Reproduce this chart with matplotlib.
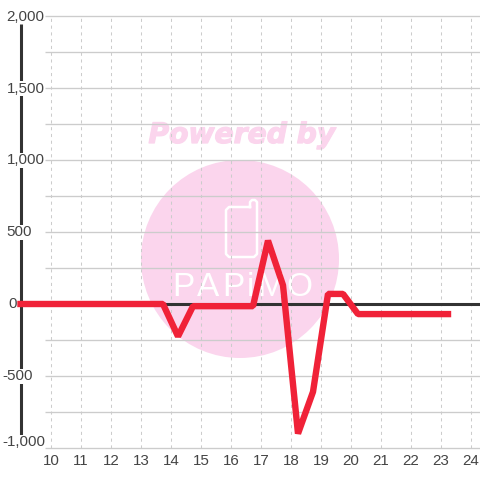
import matplotlib
matplotlib.use("Agg")
import matplotlib.pyplot as plt
import matplotlib.patheffects as pe
from matplotlib.patches import Ellipse

plt.rcParams["font.family"] = ["Liberation Sans", "DejaVu Sans"]

# half hourly values
hours = [9.0, 9.25, 9.75, 10.25, 10.75, 11.25, 11.75, 12.25, 12.75, 13.25, 13.75,
         14.25, 14.75, 15.25, 15.75, 16.25, 16.75, 17.25, 17.75, 18.25, 18.75,
         19.25, 19.75, 20.25, 20.75, 21.25, 21.75, 22.25, 22.75, 23.25]
values = [0, 0, 0, 0, 0, 0, 0, 0, 0, 0, 0,
          -225, -15, -15, -15, -15, -15, 440, 130, -900, -610,
          70, 70, -70, -70, -70, -70, -70, -70, -70]

x_ticks = list(range(10, 25))
y_major = [-1000, -500, 0, 500, 1000, 1500, 2000]
y_minor = [-750, -250, 250, 750, 1250, 1750]
y_labels = ["-1,000", "-500", "0", "500", "1,000", "1,500", "2,000"]

W = 480
PX_X10 = 50.5
PX_PER_HOUR = 30.0
PX_Y0 = 304.0
PX_PER_UNIT = 72.0 / 500


def hour_at(px):
    return 10 + (px - PX_X10) / PX_PER_HOUR


def value_at(py):
    return (PX_Y0 - py) / PX_PER_UNIT


fig = plt.figure(figsize=(4.8, 4.8), dpi=100, facecolor="white")
# axes covers the whole picture so everything can be placed by data scale
ax = fig.add_axes([0, 0, 1, 1])
ax.set_xlim(hour_at(0), hour_at(W))
ax.set_ylim(value_at(W), value_at(0))
ax.axis("off")

# watermark sits behind the chart
pink = "#fbd5ed"
ax.add_patch(Ellipse((hour_at(240), value_at(259)), 198 / PX_PER_HOUR, 198 / PX_PER_UNIT,
                     fc=pink, ec="none", zorder=1))
ax.text(hour_at(242), value_at(135), "Powered by", color=pink, fontsize=20.3,
        fontweight="bold", fontstyle="italic", family="DejaVu Sans",
        ha="center", va="center", zorder=1,
        path_effects=[pe.withStroke(linewidth=0.9, foreground=pink)])

# phone icon
phone_x = [250, 229, 226, 226, 229, 254, 257, 257, 255, 252, 250, 250]
phone_y = [207, 207, 210, 254, 257, 257, 254, 202, 200, 200, 202, 207]
ax.plot([hour_at(p) for p in phone_x], [value_at(p) for p in phone_y], color="white",
        lw=1.8, zorder=1.5, solid_joinstyle="round")

# logo letters
for ch, px in zip("PAPiMO", [183, 208, 233, 250, 271, 299]):
    ax.text(hour_at(px), value_at(288), ch, color="white", fontsize=24, ha="center",
            va="center", zorder=1.5)

# grid
for v in y_major + y_minor:
    ax.plot([hour_at(45), hour_at(W)], [v, v], color="#cccccc", lw=0.95, zorder=2,
            solid_capstyle="butt")
for h in x_ticks:
    ax.plot([h, h], [-1000, 2000], color="#cccccc", lw=0.75, ls=(0, (3, 3.5)), zorder=2)

# axes lines
ax.plot([hour_at(20.5), hour_at(20.5)], [value_at(448), value_at(24)], color="#333333",
        lw=2.2, zorder=3, solid_capstyle="butt")
ax.plot([hour_at(18), hour_at(W)], [0, 0], color="#333333", lw=2.2, zorder=3,
        solid_capstyle="butt")

# tick labels have a white box that breaks the axis line
label_left = [2, 2, 8, 6.5, 6.5, 6.5, 6.5]
label_py = [442, 376.5, 304.5, 232.5, 160.5, 88.5, 17]
for txt, left, py in zip(y_labels, label_left, label_py):
    ax.text(hour_at(left), value_at(py), txt, color="#444444", fontsize=10.9, ha="left",
            va="center", zorder=4,
            bbox=dict(fc="white" if txt != "0" else "none", ec="none", pad=0.3))
for h in x_ticks:
    ax.text(h + 0.02, value_at(461), str(h), color="#444444", fontsize=10.9, ha="center",
            va="center", zorder=4)

ax.plot(hours, values, color="#f02238", lw=4.6, zorder=5, solid_capstyle="projecting",
        solid_joinstyle="bevel")

fig.savefig("out.png", dpi=100)
